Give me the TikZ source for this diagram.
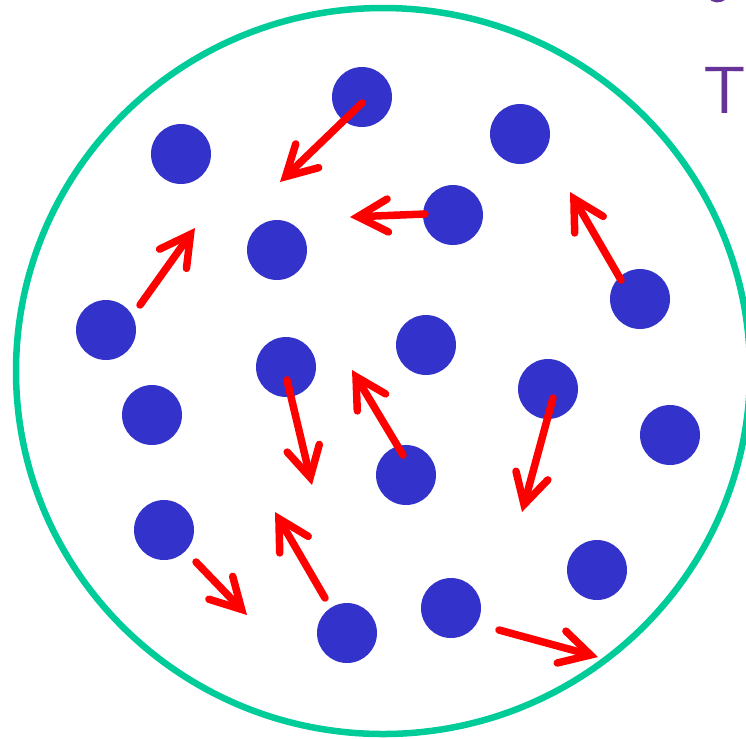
\documentclass[tikz,border=0pt]{standalone}
\usetikzlibrary{arrows.meta}

\definecolor{dotblue}{RGB}{51,51,204}
\definecolor{wallgreen}{RGB}{0,204,153}
\definecolor{velred}{RGB}{255,0,0}
\definecolor{notepurple}{RGB}{102,51,153}

\begin{document}
\begin{tikzpicture}[
  x=0.02cm,y=-0.02cm,
  particle/.style={circle,fill=dotblue,minimum size=1.2cm,inner sep=0pt},
  wall/.style={wallgreen, line width=0.13cm},
  vel/.style={velred, line width=0.15cm, line cap=round, line join=round,
    -{Straight Barb[length=0.6cm,width=0.66cm,line cap=round]}},
  note/.style={notepurple, font=\sffamily\fontsize{38}{38}\selectfont}
]

\useasboundingbox (0,0) rectangle (746,738);
\clip (0,0) rectangle (746,738);

% container
\draw[wall] (383,371) ellipse [x radius=367, y radius=363];

% particles
\foreach \i/\x/\y in {1/362/97,2/181/154,3/520/134,4/277/250,5/453/215,6/106/330,
  7/640/299,8/286/367,9/426/345,10/152/415,11/548/389,12/670/435,13/406/475,
  14/164/530,15/597/570,16/347/633,17/451/608}{
  \node[particle] (p\i) at (\x,\y) {};
}

% velocities
\foreach \i/\xa/\ya/\xb/\yb in {1/362/103/280/182,2/140/305/195/228,3/425/214/350/217,
  4/621/280/570/192,5/287/380/312/485,6/403/455/352/370,7/553/398/522/512,
  8/196/562/247/615,9/325/598/275/512,10/499/630/598/657}{
  \coordinate (v\i a) at (\xa,\ya);
  \coordinate (v\i b) at (\xb,\yb);
  \draw[vel] (v\i a) -- (v\i b);
}

% margin note
\node[note] (temp) at (725,90) {T};
\draw[notepurple, line width=0.1cm, line cap=round] (710,-4) .. controls (713,1) and (720,1) .. (725,-3);

\end{tikzpicture}
\end{document}
